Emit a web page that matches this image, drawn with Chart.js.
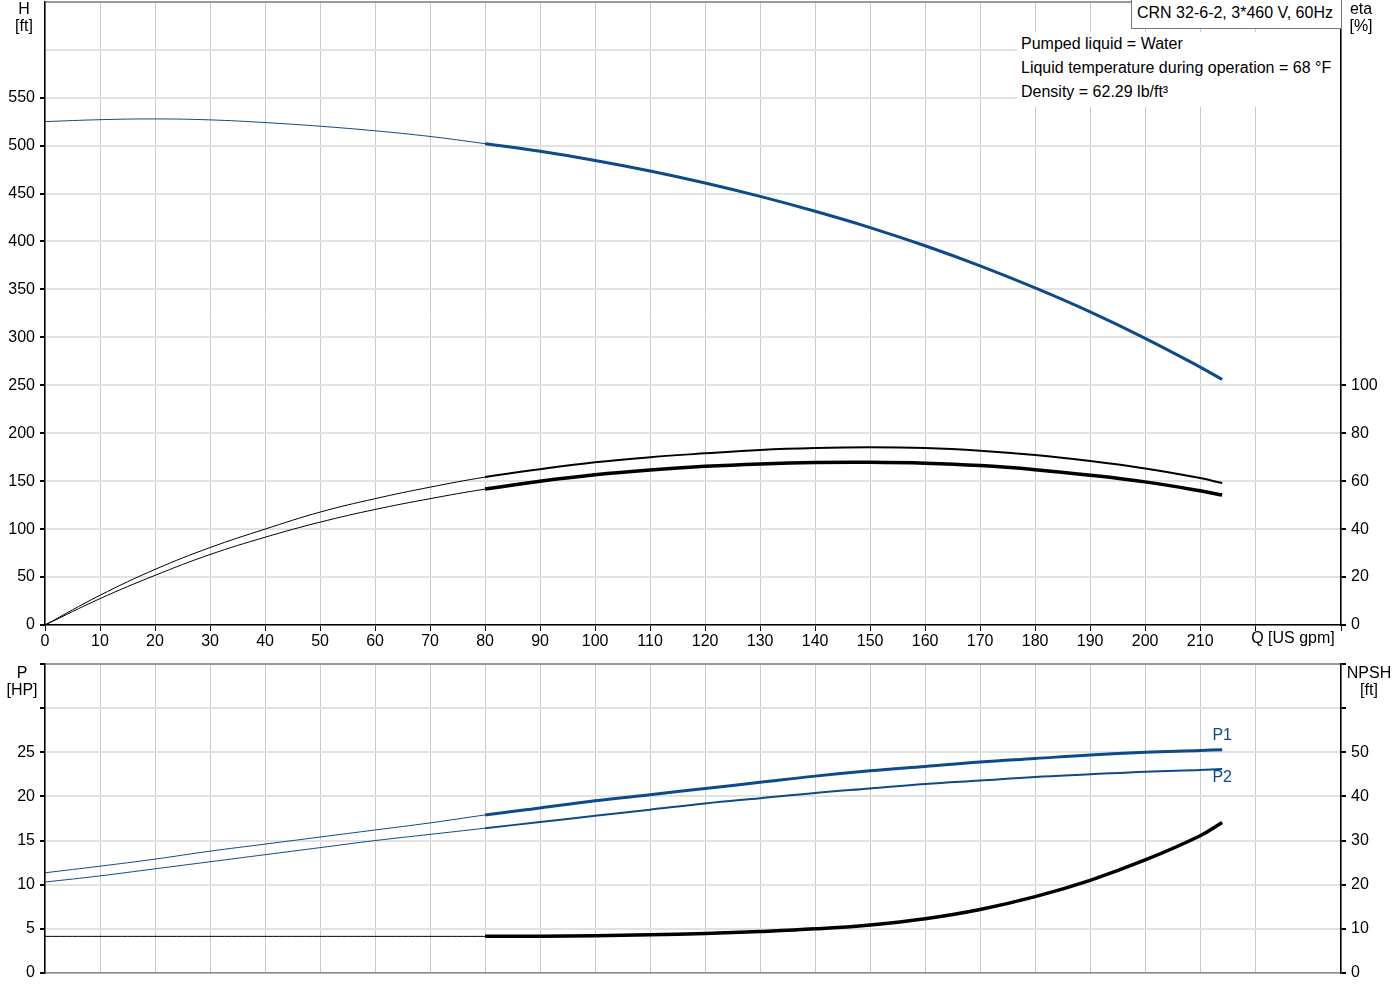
<!DOCTYPE html>
<html>
<head>
<meta charset="utf-8">
<script src="https://cdn.jsdelivr.net/npm/chart.js@4.4.1/dist/chart.umd.min.js"></script>
<style>
    body { margin: 0; background: #fff; width: 1400px; height: 1000px; position: relative; overflow: hidden;
           font-family: "Liberation Sans", Arial, sans-serif; font-size: 16px; color: #000; }
    canvas { position: absolute; left: 0; }
    #headChart { top: 0; }
    #powerChart { top: 663px; }
    .axisTitle { position: absolute; line-height: 17px; text-align: center; white-space: nowrap; }
    .info { position: absolute; left: 1017px; top: 32px; width: 323px; height: 75px; background: #fff;
            line-height: 24px; padding-left: 4px; box-sizing: border-box; white-space: nowrap; }
    .pumpTitle { position: absolute; left: 1131px; top: -1px; width: 211px; height: 30px; background: #fff;
                 border: 1px solid #777; box-sizing: border-box; padding-left: 5px; line-height: 26px; white-space: nowrap; }
</style>
</head>
<body>
<canvas id="headChart" width="1400" height="660"></canvas>
<canvas id="powerChart" width="1400" height="322"></canvas>

<div class="axisTitle" style="left:4px;top:0;width:40px">H<br>[ft]</div>
<div class="axisTitle" style="left:1341px;top:0;width:40px">eta<br>[%]</div>
<div class="axisTitle" style="left:2px;top:664px;width:40px">P<br>[HP]</div>
<div class="axisTitle" style="left:1344px;top:664px;width:50px">NPSH<br>[ft]</div>
<div class="pumpTitle">CRN 32-6-2, 3*460 V, 60Hz</div>
<div class="info">Pumped liquid = Water<br>Liquid temperature during operation = 68 °F<br>Density = 62.29 lb/ft³</div>

<script>
// flow points (US gpm) shared by every curve
const qGpm = [0, 10, 20, 30, 40, 50, 60, 70, 80, 90, 100, 110, 120, 130, 140, 150, 160, 170, 180, 190, 200, 210, 214];

const headFt   = [525, 527, 527.8, 526.8, 524, 520.2, 515.4, 509.5, 502, 494, 484.5, 473.5, 461, 447, 431.5, 414.5, 395.5, 374.5, 351.5, 326.5, 299, 269, 256];
const etaPump  = [0, 12.4, 23.2, 32.3, 40.0, 47.1, 52.7, 57.5, 61.7, 65.0, 67.9, 70.0, 71.6, 73.0, 73.8, 74.1, 73.8, 72.7, 70.9, 68.4, 65.3, 61.3, 59.2];
const etaTotal = [0, 11.0, 20.7, 29.4, 36.6, 42.9, 48.2, 52.7, 56.7, 60.0, 62.7, 64.7, 66.2, 67.2, 67.8, 67.9, 67.5, 66.5, 64.8, 62.5, 59.7, 56.0, 54.2];

const p1Hp   = [11.35, 12.1, 12.9, 13.8, 14.6, 15.4, 16.2, 17.0, 17.9, 18.7, 19.5, 20.2, 20.9, 21.6, 22.3, 22.9, 23.4, 23.9, 24.3, 24.7, 25.0, 25.2, 25.3];
const p2Hp   = [10.3, 11.0, 11.8, 12.6, 13.4, 14.2, 15.0, 15.7, 16.4, 17.1, 17.8, 18.5, 19.2, 19.8, 20.4, 20.9, 21.4, 21.8, 22.2, 22.5, 22.8, 23.0, 23.1];
const npshFt = [8.3, 8.3, 8.3, 8.3, 8.3, 8.3, 8.3, 8.3, 8.3, 8.35, 8.45, 8.65, 8.95, 9.4, 10.0, 10.9, 12.3, 14.4, 17.3, 21.0, 25.6, 31.1, 34.1];

// axis ranges and last labelled tick
const qMax = 235.6, qLabelMax = 210, qUnitAt = 220;
const headMax = 650, headLabelMax = 550;
const etaMax = 260, etaLabelMax = 100;
const powerMax = 35, powerLabelMax = 25;
const npshMax = 70, npshLabelMax = 50;

const BLUE = '#0c4a89';
const HGRID = '#e2e2e2';
const VGRID = '#c9cacd';
const FONT = '"Liberation Sans", Arial, sans-serif';

Chart.defaults.font.family = FONT;
Chart.defaults.font.size = 16;
Chart.defaults.color = '#000';

const toPoints = ys => qGpm.map((q, i) => ({ x: q, y: ys[i] }));

// curves are thin up to 80 gpm and thick afterwards
function curve(ys, axisId, color, thick) {
    return {
        data: toPoints(ys),
        yAxisID: axisId,
        borderColor: color,
        borderWidth: thick,
        pointRadius: 0,
        tension: 0.4,
        segment: { borderWidth: c => c.p0.parsed.x >= 80 ? thick : 1 }
    };
}

function xScale(showLabels) {
    return {
        type: 'linear', min: 0, max: qMax,
        ticks: {
            display: showLabels, stepSize: 10, autoSkip: false, maxRotation: 0, padding: 1,
            callback: v => (v <= qLabelMax ? v : '')
        },
        grid: { color: VGRID, lineWidth: 1, tickColor: '#000', tickLength: showLabels ? 6 : 0, drawTicks: showLabels },
        border: { color: showLabels ? '#000' : '#888', width: 1.5 },
        afterFit: s => { s.height = showLabels ? 35 : 12; s.paddingLeft = 0; s.paddingRight = 0; }
    };
}

function yScale(side, max, step, labelMax, onArea) {
    return {
        position: side, min: 0, max: max,
        ticks: { stepSize: step, padding: 5, callback: v => (v <= labelMax ? v : '') },
        grid: {
            drawOnChartArea: onArea,
            color: c => (c.tick && c.tick.value >= max ? '#999' : HGRID),
            lineWidth: 2,
            tickColor: '#000',
            tickLength: 5
        },
        border: { color: '#000', width: 1.5 },
        afterFit: s => { s.width = side === 'left' ? 45 : 59; s.paddingTop = 0; s.paddingBottom = 0; }
    };
}

const unitLabel = {
    id: 'unitLabel',
    afterDraw(chart) {
        const { ctx, scales, chartArea } = chart;
        ctx.save();
        ctx.font = '16px ' + FONT;
        ctx.fillStyle = '#000';
        ctx.textAlign = 'left';
        ctx.textBaseline = 'middle';
        ctx.fillText('Q [US gpm]', scales.x.getPixelForValue(qUnitAt) - 4, chartArea.bottom + 14);
        ctx.restore();
    }
};

const powerLabels = {
    id: 'powerLabels',
    afterDraw(chart) {
        const { ctx } = chart;
        const p1End = chart.getDatasetMeta(0).data.at(-1);
        const p2End = chart.getDatasetMeta(1).data.at(-1);
        ctx.save();
        ctx.font = '16px ' + FONT;
        ctx.fillStyle = BLUE;
        ctx.textAlign = 'center';
        ctx.textBaseline = 'middle';
        ctx.fillText('P1', p1End.x, p1End.y - 14);
        ctx.fillText('P2', p2End.x, p2End.y + 9);
        ctx.restore();
    }
};

const common = {
    responsive: false,
    animation: false,
    layout: { padding: { top: 1, left: 0, right: 0, bottom: 0 } },
    plugins: { legend: { display: false }, tooltip: { enabled: false } }
};

const headChart = new Chart(document.getElementById('headChart'), {
    type: 'line',
    data: {
        datasets: [
            curve(headFt, 'y', BLUE, 3),
            curve(etaPump, 'eta', '#000', 2),
            curve(etaTotal, 'eta', '#000', 3.5)
        ]
    },
    options: {
        ...common,
        scales: {
            x: xScale(true),
            y: yScale('left', headMax, 50, headLabelMax, true),
            eta: yScale('right', etaMax, 20, etaLabelMax, false)
        }
    },
    plugins: [unitLabel]
});

// no tick marks above the last labelled value on the top chart
headChart.options.scales.eta.grid.tickColor = c => (c.tick && c.tick.value <= etaLabelMax ? '#000' : 'rgba(0,0,0,0)');
headChart.options.scales.y.grid.tickColor = c => (c.tick && c.tick.value <= headLabelMax ? '#000' : 'rgba(0,0,0,0)');
headChart.update();

new Chart(document.getElementById('powerChart'), {
    type: 'line',
    data: {
        datasets: [
            curve(p1Hp, 'p', BLUE, 3),
            curve(p2Hp, 'p', BLUE, 2),
            curve(npshFt, 'npsh', '#000', 3.5)
        ]
    },
    options: {
        ...common,
        scales: {
            x: xScale(false),
            p: yScale('left', powerMax, 5, powerLabelMax, true),
            npsh: yScale('right', npshMax, 10, npshLabelMax, false)
        }
    },
    plugins: [powerLabels]
});
</script>
</body>
</html>
